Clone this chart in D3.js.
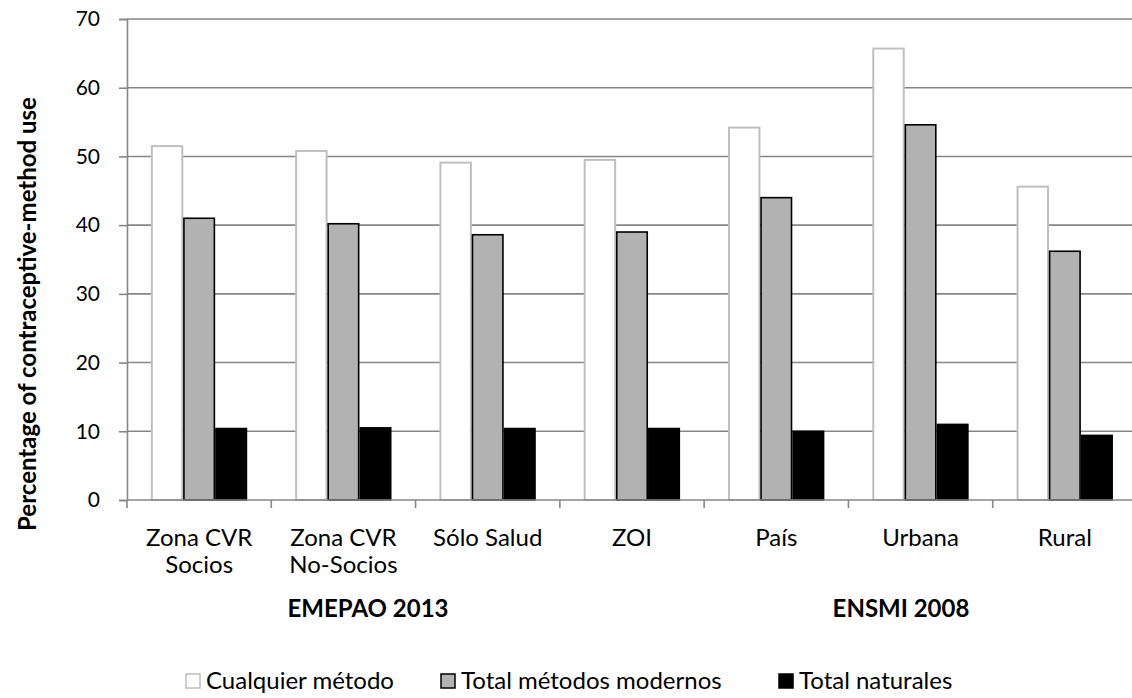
<!DOCTYPE html>
<html>
<head>
<meta charset="utf-8">
<script src="https://cdn.jsdelivr.net/npm/d3@7/dist/d3.min.js"></script>
<style>
  body { margin: 0; background: #fff; }
  svg { display: block; }
  text { font-family: Lato, "Open Sans", sans-serif; fill: #000; }
</style>
</head>
<body>
<script>
var categories = [["Zona CVR", "Socios"], ["Zona CVR", "No-Socios"], ["Sólo Salud"], ["ZOI"], ["País"], ["Urbana"], ["Rural"]];
var seriesNames = ["Cualquier método", "Total métodos modernos", "Total naturales"];
var cualquier = [51.5, 50.8, 49.1, 49.5, 54.2, 65.7, 45.6];
var modernos = [41.0, 40.2, 38.6, 39.0, 44.0, 54.6, 36.2];
var naturales = [10.4, 10.5, 10.4, 10.4, 10.0, 11.0, 9.4];
var yTicks = [0, 10, 20, 30, 40, 50, 60, 70];
var groupLabels = [{ text: "EMEPAO 2013", x: 368 }, { text: "ENSMI 2008", x: 901 }];

var width = 1132, height = 698;
var mLeft = 127, mTop = 19, plotW = 1010, plotH = 481;

var fills = ["#ffffff", "#b2b2b2", "#000000"];
var strokes = ["#bfbfbf", "#000000", "#000000"];
var gridColor = "#868686";

var svg = d3.select("body").append("svg")
    .attr("width", width)
    .attr("height", height);

var keys = categories.map(function(c) { return c.join(" "); });

var x0 = d3.scaleBand().domain(keys).range([mLeft, mLeft + plotW]).padding(0);
var x1 = d3.scaleBand().domain(seriesNames).range([0, x0.bandwidth()]).paddingInner(0).paddingOuter(0.75);
var y = d3.scaleLinear().domain([0, 70]).range([mTop + plotH, mTop]);

// gridlines
svg.append("g")
    .selectAll("line")
    .data(yTicks.slice(1))
    .enter().append("line")
    .attr("x1", mLeft).attr("x2", mLeft + plotW)
    .attr("y1", function(d) { return y(d); })
    .attr("y2", function(d) { return y(d); })
    .attr("stroke", gridColor)
    .attr("stroke-width", 1.6);

// bars
var rows = keys.map(function(k, i) {
  return { key: k, vals: [cualquier[i], modernos[i], naturales[i]] };
});

var groups = svg.append("g").selectAll("g")
    .data(rows)
    .enter().append("g")
    .attr("transform", function(d) { return "translate(" + x0(d.key) + ",0)"; });

groups.selectAll("rect")
    .data(function(d) { return d.vals.map(function(v, j) { return { s: seriesNames[j], v: v, j: j }; }); })
    .enter().append("rect")
    .attr("x", function(d) { return x1(d.s) + 0.8; })
    .attr("width", x1.bandwidth() - 1.6)
    .attr("y", function(d) { return y(d.v); })
    .attr("height", function(d) { return y(0) - y(d.v); })
    .attr("fill", function(d) { return fills[d.j]; })
    .attr("stroke", function(d) { return strokes[d.j]; })
    .attr("stroke-width", function(d) { return d.j === 0 ? 2 : 1.6; });

// y axis
var yAxis = svg.append("g")
    .attr("transform", "translate(" + mLeft + ",0)")
    .call(d3.axisLeft(y).tickValues(yTicks).tickSize(8).tickPadding(19));
yAxis.select(".domain").attr("stroke", gridColor).attr("stroke-width", 1.6);
yAxis.selectAll(".tick line").attr("stroke", gridColor).attr("stroke-width", 1.6);
yAxis.selectAll(".tick text").style("font-size", "21px").attr("fill", "#000");

// x axis
var xAxis = svg.append("g")
    .attr("transform", "translate(0," + y(0) + ")");
xAxis.append("line")
    .attr("x1", mLeft).attr("x2", mLeft + plotW)
    .attr("stroke", gridColor).attr("stroke-width", 1.6);
xAxis.selectAll(".xt")
    .data(keys)
    .enter().append("line")
    .attr("class", "xt")
    .attr("x1", function(d) { return x0(d); })
    .attr("x2", function(d) { return x0(d); })
    .attr("y1", 0).attr("y2", 8)
    .attr("stroke", gridColor).attr("stroke-width", 1.6);

var catText = xAxis.selectAll(".cat")
    .data(categories)
    .enter().append("text")
    .attr("class", "cat")
    .attr("text-anchor", "middle")
    .style("font-size", "24px")
    .attr("transform", function(d, i) { return "translate(" + (x0(keys[i]) + x0.bandwidth() / 2) + ",0)"; });
catText.selectAll("tspan")
    .data(function(d) { return d; })
    .enter().append("tspan")
    .attr("x", 0)
    .attr("y", function(d, i) { return 46 + i * 27; })
    .text(function(d) { return d; });

svg.selectAll(".grp")
    .data(groupLabels)
    .enter().append("text")
    .attr("class", "grp")
    .attr("x", function(d) { return d.x; })
    .attr("y", 617)
    .attr("text-anchor", "middle")
    .style("font-size", "24px")
    .style("font-weight", "bold")
    .text(function(d) { return d.text; });

// y title
svg.append("text")
    .attr("transform", "translate(36,314) rotate(-90)")
    .attr("text-anchor", "middle")
    .style("font-size", "24px")
    .style("font-weight", "bold")
    .text("Percentage of contraceptive-method use");

// legend
var legendX = [186, 441, 779];
var legend = svg.selectAll(".leg")
    .data(seriesNames)
    .enter().append("g")
    .attr("class", "leg")
    .attr("transform", function(d, i) { return "translate(" + legendX[i] + ",674)"; });
legend.append("rect")
    .attr("width", 14).attr("height", 14)
    .attr("fill", function(d, i) { return fills[i]; })
    .attr("stroke", function(d, i) { return i === 0 ? "#bfbfbf" : "#000"; })
    .attr("stroke-width", 1.5);
legend.append("text")
    .attr("x", 20).attr("y", 15)
    .style("font-size", "24px")
    .text(function(d) { return d; });
</script>
</body>
</html>
